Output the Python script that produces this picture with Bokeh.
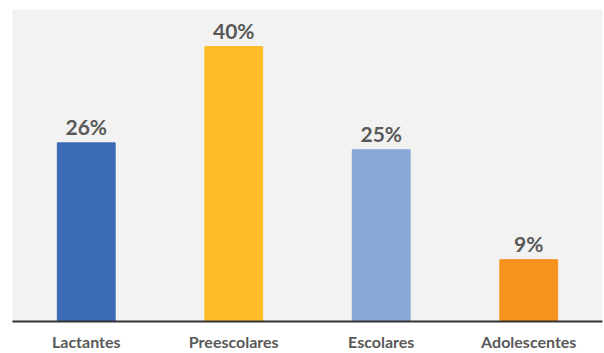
from bokeh.plotting import figure
from bokeh.models import ColumnDataSource, Range1d, FactorRange
from bokeh.embed import file_html
from bokeh.resources import INLINE
from bokeh.core.properties import value

categories = ["Lactantes", "Preescolares", "Escolares", "Adolescentes"]
values = [26, 40, 25, 9]
labels = ["26%", "40%", "25%", "9%"]
colors = ["#3A6BB4", "#FDBD28", "#8AA8D6", "#F7931E"]

src = ColumnDataSource(dict(cat=categories, val=values, lab=labels, col=colors))

p = figure(width=604, height=353, x_range=FactorRange(*categories, range_padding=0),
           y_range=Range1d(0, 45.4), output_backend="svg", toolbar_location=None,
           min_border_left=12, min_border_right=2, min_border_top=9, min_border_bottom=0)
p.background_fill_color = "#F2F2F2"
p.border_fill_color = "white"
p.outline_line_color = None
p.grid.visible = False

p.vbar(x="cat", top="val", width=0.392, color="col", source=src)
p.text(x="cat", y="val", text="lab", source=src, text_align="center", text_baseline="bottom",
       y_offset=-4, text_font=value("Lato"), text_font_style="bold", text_font_size="21px",
       text_color="#595959")

p.yaxis.visible = False
xa = p.xaxis[0]
xa.axis_line_color = "#333333"
xa.axis_line_width = 2
xa.major_tick_line_color = None
xa.minor_tick_line_color = None
xa.major_label_text_font = "Lato"
xa.major_label_text_font_style = "bold"
xa.major_label_text_font_size = "16px"
xa.major_label_text_color = "#595959"
xa.major_label_standoff = 4

open("out.html", "w").write(file_html(p, INLINE))
